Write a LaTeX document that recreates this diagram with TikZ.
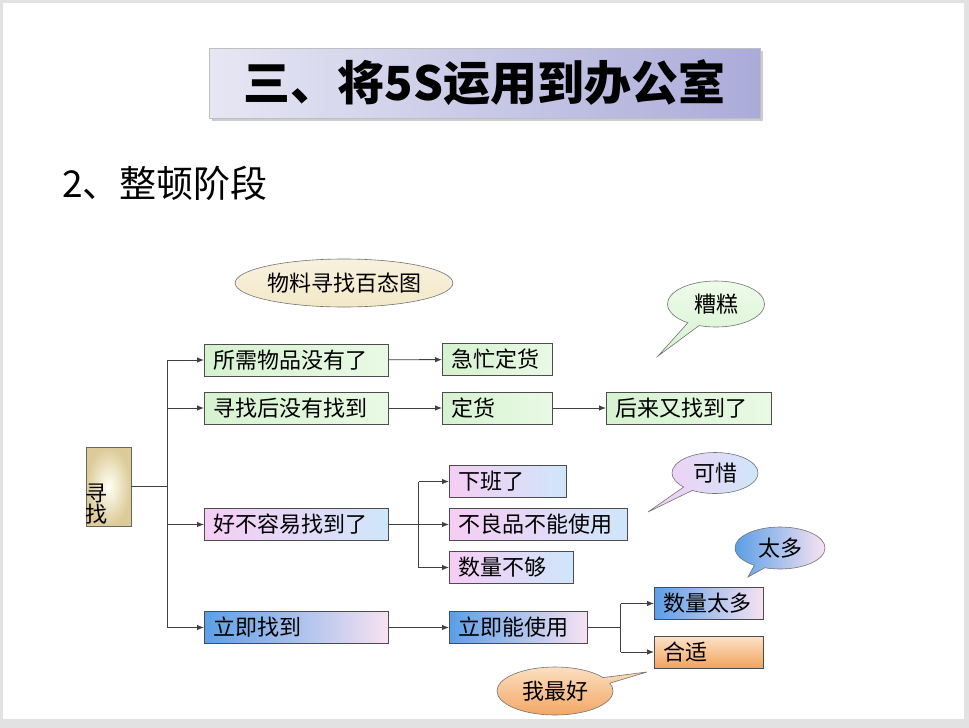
\documentclass[tikz,border=0pt]{standalone}
\usepackage{fontspec}
\setmainfont{Noto Sans CJK SC}
\usepackage{tikz}
\usetikzlibrary{arrows.meta, calc, positioning, shapes.geometric, shapes.callouts}
\definecolor{rahmen}{HTML}{E2E2E2}
\definecolor{linie}{HTML}{404040}
\definecolor{gruen}{HTML}{D6F2D0}
\definecolor{gruenhell}{HTML}{EEFBEA}
\definecolor{rosa}{HTML}{F6CDF4}
\definecolor{hellblau}{HTML}{CFE6FA}
\definecolor{blau}{HTML}{5B9FE6}
\definecolor{hellrosa}{HTML}{F8E2F2}
\definecolor{orange}{HTML}{F2A35E}
\definecolor{orangehell}{HTML}{FCE3C8}
\definecolor{creme}{HTML}{F3E8C8}
\definecolor{tan}{HTML}{DCCB98}
\definecolor{lila}{HTML}{ABABDA}
\definecolor{lilahell}{HTML}{E6E6F4}

\tikzset{
  box/.style={draw=black!70, line width=0.7pt, anchor=west, minimum height=32pt,
    inner xsep=9pt, inner ysep=0pt, align=left, font=\fontsize{22}{24}\selectfont},
  greenbox/.style={box, left color=gruen, right color=gruenhell!80!gruen},
  pinkbox/.style={box, left color=rosa, right color=hellblau},
  bluebox/.style={box, left color=blau, right color=hellrosa},
  orangebox/.style={box, top color=orangehell, bottom color=orange},
  bubble/.style={ellipse callout, draw=black!55, line width=0.6pt, inner sep=0pt,
    font=\fontsize{22}{24}\selectfont},
  arr/.style={draw=linie, line width=0.9pt, -{Latex[length=7pt,width=5.5pt]}},
  conn/.style={draw=linie, line width=0.9pt}
}

\begin{document}
\begin{tikzpicture}[x=1pt, y=-1pt]
  \useasboundingbox (0,0) rectangle (969,728);
  % --- Folie ---
  \fill[rahmen] (0,0) rectangle (969,728);
  \fill[white] (3,3) rectangle (964,719);

  % --- Titel ---
  \fill[black!20] (212,51) rectangle (763,121);
  \node[minimum width=551pt, minimum height=70pt, inner sep=0pt,
        left color=lilahell, right color=lila, draw=black!25,
        font=\fontsize{47}{50}\selectfont\bfseries] (title) at (484.5,83) {三、将5S运用到办公室};
  \node[anchor=west, inner sep=0pt, font=\fontsize{37}{40}\selectfont] (stage) at (62,183) {2、整顿阶段};

  % --- Überschrift des Diagramms ---
  \node[ellipse, draw=black!55, line width=0.6pt, top color=creme!60!white, bottom color=creme,
        minimum width=172pt, minimum height=48pt, inner sep=0pt,
        font=\fontsize{22}{24}\selectfont] (head) at (344,283) {物料寻找百态图};

  % --- Wurzel ---
  \node[draw=black!60, line width=0.7pt, inner color=yellow!4!white, outer color=tan,
        minimum width=45pt, minimum height=79pt] (root) at (108.5,486.5) {};
  \node[anchor=south west, inner sep=0pt, align=left,
        font=\fontsize{22}{21}\selectfont] (rootlabel) at ($(root.south west)+(0,-2)$) {寻\\找};

  % --- erste Ebene ---
  \node[greenbox, text width=166pt] (need) at (204,360) {所需物品没有了};
  \node[greenbox, text width=166pt] (notfound) at (204,408) {寻找后没有找到};
  \node[pinkbox, text width=166pt] (hard) at (204,524.5) {好不容易找到了};
  \node[bluebox, text width=166pt] (atonce) at (204,627.5) {立即找到};

  % --- zweite Ebene ---
  \node[greenbox, text width=92pt] (rush) at (442,359.5) {急忙定货};
  \node[greenbox, text width=92pt] (order) at (442,408) {定货};
  \node[greenbox, text width=147pt] (later) at (606,408) {后来又找到了};
  \node[pinkbox, text width=99pt] (offwork) at (449,481.5) {下班了};
  \node[pinkbox, text width=160pt] (defect) at (449,524.5) {不良品不能使用};
  \node[pinkbox, text width=106pt] (short) at (449,567.5) {数量不够};
  \node[bluebox, text width=120pt] (usable) at (449,627.5) {立即能使用};
  \node[bluebox, text width=91pt] (toomany) at (654,603.5) {数量太多};
  \node[orangebox, text width=91pt] (fit) at (654,652) {合适};

  % --- Verbindungen ---
  \draw[conn] (root.east) -- ++(36,0) coordinate (trunk);
  \draw[conn] (trunk |- need.west) -- (trunk |- atonce.west);
  \foreach \n in {need,notfound,hard,atonce}
    \draw[arr] (trunk |- \n.west) -- (\n.west);
  \draw[arr] (need) -- (rush);
  \draw[arr] (notfound) -- (order);
  \draw[arr] (order) -- (later);
  \draw[arr] (atonce) -- (usable);

  \draw[conn] (hard.east) -- ++(30,0) coordinate (hardfork);
  \draw[conn] (hardfork |- offwork.west) -- (hardfork |- short.west);
  \foreach \n in {offwork,defect,short}
    \draw[arr] (hardfork |- \n.west) -- (\n.west);

  \draw[conn] (usable.east) -- ++(33,0) coordinate (usefork);
  \draw[conn] (usefork |- toomany.west) -- (usefork |- fit.west);
  \foreach \n in {toomany,fit}
    \draw[arr] (usefork |- \n.west) -- (\n.west);

  % --- Sprechblasen ---
  \node[bubble, top color=gruenhell, bottom color=gruen, minimum width=97pt, minimum height=46pt,
        callout absolute pointer={(658,356)}] (bad) at (716,304) {糟糕};
  \node[bubble, left color=rosa, right color=hellblau, minimum width=86pt, minimum height=41pt,
        callout absolute pointer={(648,512)}] (pity) at (715,473) {可惜};
  \node[bubble, left color=blau, right color=hellrosa, minimum width=90pt, minimum height=42pt,
        callout absolute pointer={(748,577)}] (much) at (780,548) {太多};
  \node[bubble, top color=orangehell, bottom color=orange, minimum width=116pt, minimum height=48pt,
        callout absolute pointer={(647,672)}] (best) at (555,691) {我最好};
\end{tikzpicture}
\end{document}
